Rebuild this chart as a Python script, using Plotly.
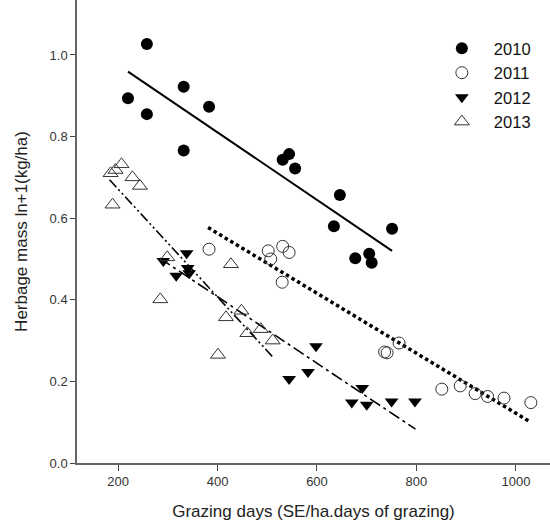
import plotly.graph_objects as go

# ---- data ----
x2010 = [220, 258, 258, 332, 332, 383, 531, 544, 556, 634, 646, 751, 677, 705, 710]
y2010 = [0.894, 1.027, 0.855, 0.922, 0.766, 0.873, 0.743, 0.757, 0.722, 0.580, 0.657, 0.574, 0.502, 0.513, 0.491]

x2011 = [383, 502, 507, 531, 544, 530, 736, 741, 765, 851, 888, 918, 943, 976, 1030]
y2011 = [0.524, 0.520, 0.500, 0.531, 0.516, 0.443, 0.272, 0.270, 0.294, 0.181, 0.189, 0.170, 0.163, 0.159, 0.148]

x2012 = [291, 317, 338, 340, 343, 598, 544, 582, 691, 670, 700, 750, 797]
y2012 = [0.495, 0.459, 0.514, 0.478, 0.465, 0.286, 0.206, 0.223, 0.184, 0.148, 0.143, 0.151, 0.151]

x2013 = [185, 195, 207, 229, 244, 189, 299, 427, 285, 448, 417, 460, 487, 511, 401]
y2013 = [0.710, 0.718, 0.732, 0.700, 0.679, 0.633, 0.504, 0.487, 0.401, 0.373, 0.357, 0.318, 0.328, 0.300, 0.265]

# regression line end points
fit2010_x = [220, 751]
fit2010_y = [0.959, 0.520]
fit2011_x = [381, 1027]
fit2011_y = [0.577, 0.102]
fit2012_x = [284, 798]
fit2012_y = [0.502, 0.083]
fit2013_x = [183, 511]
fit2013_y = [0.694, 0.260]

x_ticks = [200, 400, 600, 800, 1000]
y_ticks = [0.0, 0.2, 0.4, 0.6, 0.8, 1.0]
series_names = ["2010", "2011", "2012", "2013"]

FONT = "Liberation Sans, Arial, sans-serif"

fig = go.Figure()

# fitted lines (no legend)
fig.add_trace(go.Scatter(x=fit2010_x, y=fit2010_y, mode="lines",
                         line=dict(color="black", width=2), showlegend=False, hoverinfo="skip"))
fig.add_trace(go.Scatter(x=fit2011_x, y=fit2011_y, mode="lines",
                         line=dict(color="black", width=3.5, dash="3.5px,3px"), showlegend=False, hoverinfo="skip"))
fig.add_trace(go.Scatter(x=fit2012_x, y=fit2012_y, mode="lines",
                         line=dict(color="black", width=1.6, dash="12px,4px,3px,4px"), showlegend=False, hoverinfo="skip"))
fig.add_trace(go.Scatter(x=fit2013_x, y=fit2013_y, mode="lines",
                         line=dict(color="black", width=1.6, dash="10px,3px,2px,3px,2px,3px"), showlegend=False, hoverinfo="skip"))

# points
fig.add_trace(go.Scatter(x=x2010, y=y2010, mode="markers", name=series_names[0],
                         marker=dict(symbol="circle", size=12, color="black")))
fig.add_trace(go.Scatter(x=x2011, y=y2011, mode="markers", name=series_names[1],
                         marker=dict(symbol="circle-open", size=12, color="#333333", line=dict(width=1))))
fig.add_trace(go.Scatter(x=x2012, y=y2012, mode="markers", name=series_names[2],
                         marker=dict(symbol="triangle-down", size=12, color="black")))
fig.add_trace(go.Scatter(x=x2013, y=y2013, mode="markers", name=series_names[3],
                         marker=dict(symbol="triangle-up-open", size=13, color="#333333", line=dict(width=1))))

fig.update_layout(
    width=550, height=523,
    margin=dict(l=77, r=0, t=0, b=60),
    paper_bgcolor="white", plot_bgcolor="white",
    font=dict(family=FONT, color="#222222"),
    showlegend=True,
    legend=dict(x=0.746, y=0.933, xanchor="left", yanchor="top",
                font=dict(size=16.5, family=FONT, color="#111111"),
                bgcolor="rgba(0,0,0,0)", itemwidth=54, tracegroupgap=0),
    xaxis=dict(range=[117.5, 1068.5], tickvals=x_ticks, ticktext=[str(v) for v in x_ticks],
               showgrid=False, zeroline=False, showline=True, linecolor="#666666", linewidth=1.5,
               ticks="outside", ticklen=6, tickwidth=1.2, tickcolor="#444444",
               tickfont=dict(size=13, family=FONT, color="#333333"),
               title=dict(text="Grazing days (SE/ha.days of grazing)", font=dict(size=17, family=FONT, color="#222222"),
                          standoff=17)),
    yaxis=dict(range=[0, 1.1347], tickvals=y_ticks, ticktext=["%.1f" % v for v in y_ticks],
               showgrid=False, zeroline=False, showline=True, linecolor="#666666", linewidth=1.5,
               ticks="outside", ticklen=5, tickwidth=1.2, tickcolor="#444444",
               tickfont=dict(size=13, family=FONT, color="#333333"),
               title=dict(text="Herbage mass ln+1(kg/ha)", font=dict(size=17, family=FONT, color="#222222"),
                          standoff=18)),
)

fig.write_html("out.html", config={"displayModeBar": False},
               post_script="document.body.style.margin='0px';")
